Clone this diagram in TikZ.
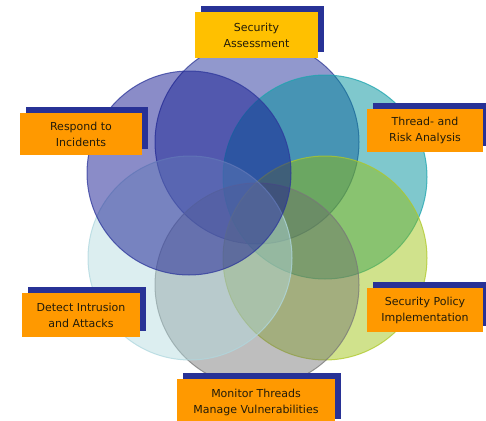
\documentclass[tikz,border=0pt]{standalone}
\usepackage{fontspec}
\setmainfont{DejaVu Sans}
\usetikzlibrary{shadows}
\definecolor{cTop}{RGB}{35,49,155}
\definecolor{cTopL}{RGB}{50,60,150}
\definecolor{cResp}{RGB}{21,25,145}
\definecolor{cRespL}{RGB}{45,55,155}
\definecolor{cTeal}{RGB}{0,145,155}
\definecolor{cTealL}{RGB}{30,165,175}
\definecolor{cGreen}{RGB}{150,190,0}
\definecolor{cGreenL}{RGB}{175,200,40}
\definecolor{cGray}{RGB}{107,107,107}
\definecolor{cGrayL}{RGB}{120,120,120}
\definecolor{cDet}{RGB}{178,218,222}
\definecolor{cDetL}{RGB}{175,215,222}
\definecolor{boxOrange}{RGB}{255,153,0}
\definecolor{boxYellow}{RGB}{255,192,0}
\definecolor{shadowBlue}{RGB}{40,50,150}
\definecolor{txt}{RGB}{35,28,10}
\tikzset{
  ring/.style={fill opacity=0.5, draw opacity=0.75, line width=1pt},
  label box/.style={fill=boxOrange, draw=none, inner sep=0pt, align=center,
    text=txt, font=\fontsize{11}{16}\selectfont,
    drop shadow={shadow xshift=5.5pt, shadow yshift=6pt, fill=shadowBlue, opacity=1}},
}
\begin{document}
\begin{tikzpicture}[x=1pt,y=-1pt]
\useasboundingbox (0,0) rectangle (486,420);
% circles
\draw[ring, fill=cTop, draw=cTopL] (257,142) circle[radius=102pt];
\draw[ring, fill=cTeal, draw=cTealL] (325,177) circle[radius=102pt];
\draw[ring, fill=cGreen, draw=cGreenL, fill opacity=0.45] (325,258) circle[radius=102pt];
\draw[ring, fill=cGray, draw=cGrayL, fill opacity=0.44] (257,285) circle[radius=102pt];
\draw[ring, fill=cDet, draw=cDetL, fill opacity=0.46] (190,258) circle[radius=102pt];
\draw[ring, fill=cResp, draw=cRespL] (189,173) circle[radius=102pt];
% labels
\node[label box, fill=boxYellow, minimum width=123pt, minimum height=46pt] (sa) at (256.5,35) {Security\\Assessment};
\node[label box, minimum width=122pt, minimum height=42pt] (ri) at (81,134) {Respond to\\Incidents};
\node[label box, minimum width=116pt, minimum height=43pt] (tr) at (425,130.5) {Thread- and\\Risk Analysis};
\node[label box, minimum width=118pt, minimum height=44pt] (di) at (81,315) {Detect Intrusion\\and Attacks};
\node[label box, minimum width=116pt, minimum height=44pt] (sp) at (425,310) {Security Policy\\Implementation};
\node[label box, minimum width=158pt, minimum height=46pt] (mt) at (256,402) {Monitor Threads\\Manage Vulnerabilities};
\end{tikzpicture}
\end{document}
